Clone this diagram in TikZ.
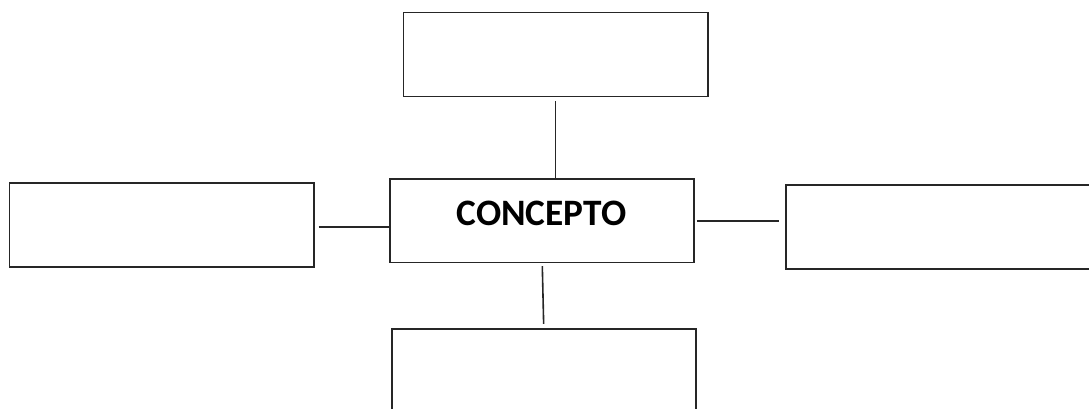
\documentclass[tikz,border=0pt]{standalone}
\usepackage{fontspec}
\newfontfamily\boxfont{Carlito}
\usetikzlibrary{calc}
\begin{document}
\begin{tikzpicture}[x=1pt,y=-1pt,
  frame/.style={draw=black!85, line width=1.6pt, rectangle, inner sep=0pt, fill=white},
  link/.style={draw=black!85, line width=1.6pt}]
\useasboundingbox (0,0) rectangle (1089,409);
\clip (0,0) rectangle (1089,409);
% boxes
\node[frame, minimum width=304.4pt, minimum height=84pt] (top) at (555.5,54.7) {};
\node[frame, minimum width=304pt, minimum height=83.3pt] (center) at (542,220.7) {};
\node[frame, minimum width=304.4pt, minimum height=84pt] (left) at (161.5,224.7) {};
\node[frame, minimum width=310pt, minimum height=84pt] (right) at (941,227) {};
\node[frame, minimum width=304.3pt, minimum height=100pt] (bottom) at (543.85,378.7) {};
% label of the central concept
\node[font=\boxfont\bfseries\fontsize{37.3}{40}\selectfont, inner sep=0pt] (ctext)
  at ($(center.center)+(-0.5,-7)$) {CONCEPTO};
% connectors
\draw[link] ($(top.south)+(0,4)$) -- (top.south |- center.north);
\draw[link] ($(left.east)+(4,2)$) -- ($(left.east -| center.west)+(0,2)$);
\draw[link] ($(center.east)+(2,0)$) -- ($(center.east -| right.west)+(-6,0)$);
\draw[link] ($(center.south)+(0.3,3)$) -- ($(bottom.north)+(-0.2,-4)$);
\end{tikzpicture}
\end{document}
